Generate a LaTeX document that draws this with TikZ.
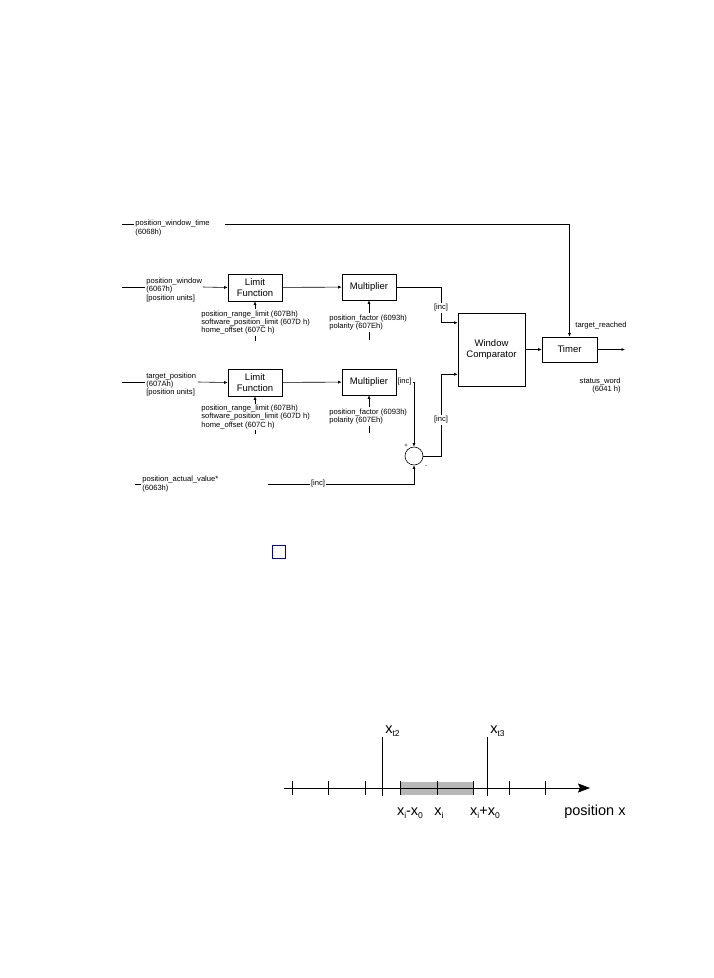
\documentclass[tikz,border=0pt]{standalone}
\usepackage{fontspec}
\setmainfont{Liberation Sans}
\usetikzlibrary{positioning,arrows.meta}
\newcommand\lowsub[1]{\raisebox{-3.5pt}{\fontsize{8.5}{8.5}\selectfont #1}}

\begin{document}
\begin{tikzpicture}[x=1pt, y=-1pt, line width=0.6pt,
  blk/.style={draw, minimum width=54pt, minimum height=26pt, inner sep=1pt,
    align=center, font=\fontsize{9.5}{10.5}\selectfont},
  lbl/.style={font=\fontsize{7.6}{8.4}\selectfont, align=left, inner sep=1pt},
  sgn/.style={font=\fontsize{6}{6}\selectfont, inner sep=0pt},
  ax/.style={font=\fontsize{14.5}{16}\selectfont, inner sep=0pt},
  sig/.style={-{Latex[length=3.5pt,width=3pt]}}]
  \useasboundingbox (0,0) rectangle (714,978);

  % blocks
  \node (limA) [blk, minimum height=27pt] at (255,287.5) {Limit\\Function};
  \node (mulA) [blk] at (369,287) {Multiplier};
  \node (limB) [blk, minimum height=27pt] at (255,382.5) {Limit\\Function};
  \node (mulB) [blk] at (369,382) {Multiplier};
  \node (comp) [blk, minimum width=67pt, minimum height=73pt] at (491.5,349.5) {Window\\Comparator};
  \node (timer) [blk, minimum width=55pt, minimum height=25pt] at (569.5,349.5) {Timer};
  \node (sum) [draw, circle, minimum size=18pt, inner sep=0pt] at (414,456) {};
  \node (plus) [sgn] at (406,446) {+};
  \node (minus) [sgn] at (426,467) {-};

  % objects
  \node (pwt) [lbl, anchor=west] at (134,228) {position\_window\_time\\(6068h)};
  \node (pw) [lbl, anchor=west] at (145,290) {position\_window\\(6067h)\\{}[position units]};
  \node (lrA) [lbl, anchor=west] at (200,322.5) {position\_range\_limit (607Bh)\\software\_position\_limit (607D h)\\home\_offset (607C h)};
  \node (pfA) [lbl, anchor=west] at (328,322.5) {position\_factor (6093h)\\polarity (607Eh)};
  \node (tp) [lbl, anchor=west] at (145,384.5) {target\_position\\(607Ah)\\{}[position units]};
  \node (lrB) [lbl, anchor=west] at (200,417) {position\_range\_limit (607Bh)\\software\_position\_limit (607D h)\\home\_offset (607C h)};
  \node (pfB) [lbl, anchor=west] at (328,416.5) {position\_factor (6093h)\\polarity (607Eh)};
  \node (pav) [lbl, anchor=west] at (141,484) {position\_actual\_value*\\(6063h)};
  \node (tr) [lbl] at (601,326) {target\_reached};
  \node (sw) [lbl, anchor=east, align=right] at (622,385.5) {status\_word\\(6041 h)};

  \node (incA) [lbl] at (441,308) {[inc]};
  \node (incB) [lbl, right=0pt of mulB] {[inc]};
  \node (incD) [lbl] at (441,420) {[inc]};
  \node (incE) [lbl] at (318,484) {[inc]};

  \coordinate (pwtIn) at (122,224);
  \coordinate (pwtOut) at (225,224);
  \coordinate (pwIn) at (122,287);
  \coordinate (pwOut) at (203,287);
  \coordinate (tpIn) at (122,382);
  \coordinate (tpOut) at (198,382);
  \coordinate (pavIn) at (135,484);
  \coordinate (pavOut) at (268,484);
  \coordinate (lrAEnd) at (255,341);
  \coordinate (lrBEnd) at (255,434);
  \coordinate (pfAEnd) at (369,340);
  \coordinate (pfBEnd) at (369,433);
  \coordinate (swOut) at (625,349.5);

  % signal paths
  \draw (pwtIn) -- (pwt.west |- pwtIn);
  \draw[sig] (pwtOut) -| (timer.north);
  \draw (pwIn) -- (pw.west |- pwIn);
  \draw[sig] (pwOut) -- (limA.west);
  \draw[sig] (limA) -- (mulA);
  \draw (mulA.east) -| (incA.north);
  \draw[sig] (incA.south) |- ([yshift=-10pt]comp.north west);
  \draw[sig] (lrA.north -| limA) -- (limA.south);
  \draw (lrA.south -| limA) -- (lrAEnd);
  \draw[sig] (pfA.north -| mulA) -- (mulA.south);
  \draw (pfA.south -| mulA) -- (pfAEnd);

  \draw (tpIn) -- (tp.west |- tpIn);
  \draw[sig] (tpOut) -- (limB.west);
  \draw[sig] (limB) -- (mulB);
  \draw[sig] (lrB.north -| limB) -- (limB.south);
  \draw (lrB.south -| limB) -- (lrBEnd);
  \draw[sig] (pfB.north -| mulB) -- (mulB.south);
  \draw (pfB.south -| mulB) -- (pfBEnd);
  \draw[sig] (incB.east) -| (sum.north);
  \draw (sum.east) -| (incD.south);
  \draw[sig] (incD.north) |- ([yshift=12pt]comp.south west);

  \draw (pavIn) -- (pav.west |- pavIn);
  \draw (pavOut) -- (incE);
  \draw[sig] (incE) -| (sum.south);

  \draw[sig] (comp) -- (timer);
  \draw[sig] (timer) -- (swOut);

  \node (sq) [draw=blue!70!black, line width=1.6pt, minimum size=13pt, inner sep=0pt] at (279,552) {};

  % position axis
  \coordinate (axL) at (284,788);
  \coordinate (axR) at (590,788);
  \fill[black!28] (400,782) rectangle (473,795);
  \draw[-{Stealth[length=12pt,width=9pt,inset=2pt]}] (axL) -- (axR);
  \foreach \t in {292,328,365,400,437,473,509,545}
    \draw (\t,781) -- (\t,795);
  \draw (382,737) -- (382,796);
  \draw (487,737) -- (487,796);
  \node (lt2) [ax, anchor=base west] at (385,733) {x\lowsub{t2}};
  \node (lt3) [ax, anchor=base west] at (490,733) {x\lowsub{t3}};
  \node (lm) [ax, anchor=base] at (410,815) {x\lowsub{i}-x\lowsub{0}};
  \node (li) [ax, anchor=base] at (439,815) {x\lowsub{i}};
  \node (lp) [ax, anchor=base] at (485,815) {x\lowsub{i}+x\lowsub{0}};
  \node (lpos) [ax, anchor=base west] at (564,815) {position x};
\end{tikzpicture}
\end{document}
